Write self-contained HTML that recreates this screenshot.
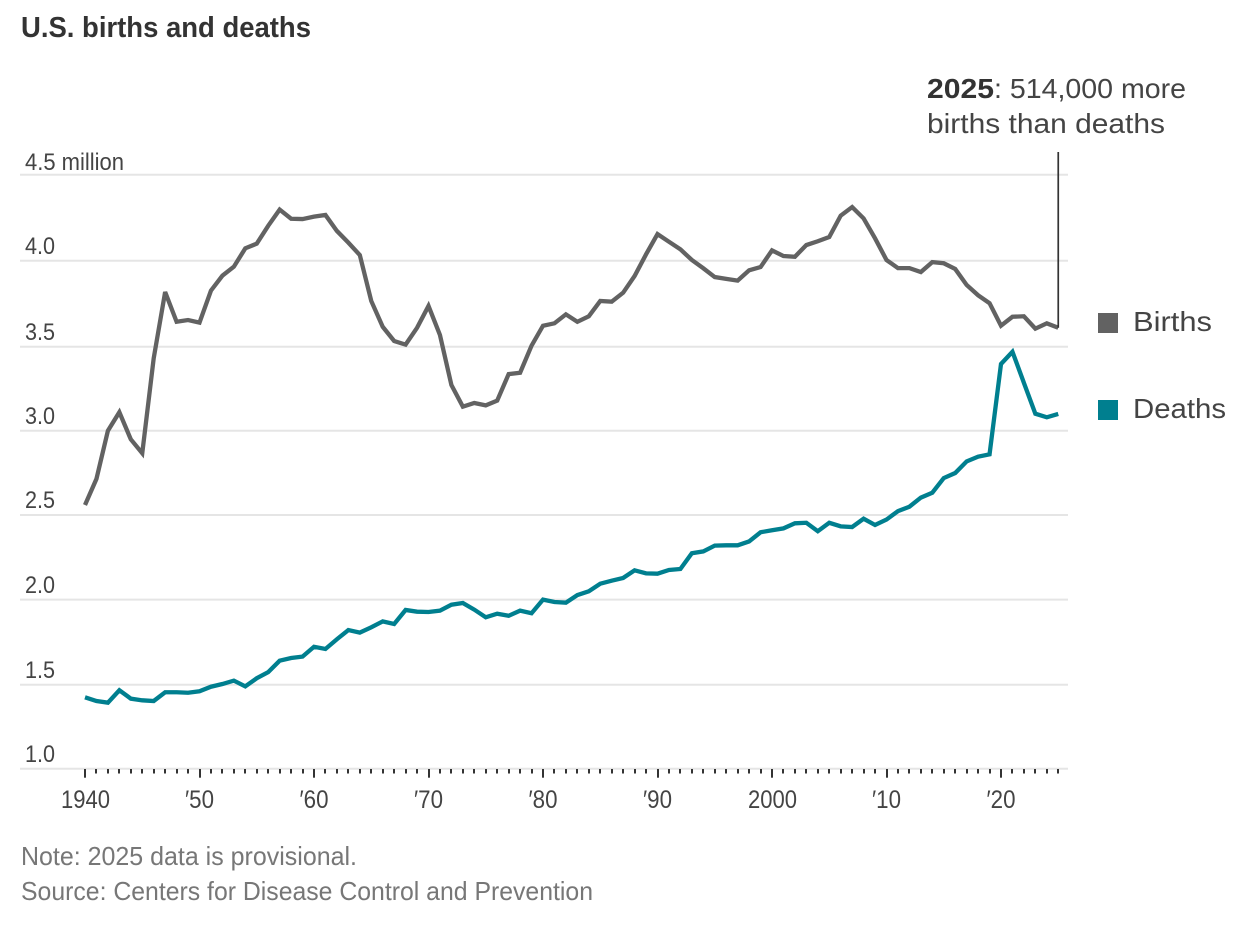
<!DOCTYPE html>
<html lang="en">
<head>
<meta charset="utf-8">
<title>U.S. births and deaths</title>
<style>
  html, body { margin: 0; padding: 0; background: #fff; }
  body { width: 1250px; height: 932px; overflow: hidden; }
  svg { display: block; font-family: "Liberation Sans", sans-serif; }
</style>
</head>
<body>
<svg id="chart" width="1250" height="932" viewBox="0 0 1250 932" xmlns="http://www.w3.org/2000/svg">
  <text x="21" y="37" font-size="29" font-weight="700" fill="#333" textLength="290" lengthAdjust="spacingAndGlyphs">U.S. births and deaths</text>
  <g id="grid"></g>
  <g id="y-labels"></g>
  <g id="x-axis"></g>
  <g id="series"></g>
  <g id="annotation">
    <text x="927" y="98" font-size="28" font-weight="700" fill="#333" textLength="67" lengthAdjust="spacingAndGlyphs">2025</text>
    <text x="994" y="98" font-size="28" fill="#444" textLength="192" lengthAdjust="spacingAndGlyphs">: 514,000 more</text>
    <text x="927" y="133" font-size="28" fill="#444" textLength="238" lengthAdjust="spacingAndGlyphs">births than deaths</text>
  </g>
  <g id="legend">
    <rect x="1098" y="313" width="20" height="20" fill="#626262"/>
    <text x="1133" y="331" font-size="28" fill="#444" textLength="79" lengthAdjust="spacingAndGlyphs">Births</text>
    <rect x="1098" y="400" width="20" height="20" fill="#007f8f"/>
    <text x="1133" y="418" font-size="28" fill="#444" textLength="93" lengthAdjust="spacingAndGlyphs">Deaths</text>
  </g>
  <text x="21" y="865" font-size="26" fill="#777" textLength="336" lengthAdjust="spacingAndGlyphs">Note: 2025 data is provisional.</text>
  <text x="21" y="900" font-size="26" fill="#777" textLength="572" lengthAdjust="spacingAndGlyphs">Source: Centers for Disease Control and Prevention</text>
</svg>
<script>
const years = [1940,1941,1942,1943,1944,1945,1946,1947,1948,1949,1950,1951,1952,1953,1954,1955,1956,1957,1958,1959,1960,1961,1962,1963,1964,1965,1966,1967,1968,1969,1970,1971,1972,1973,1974,1975,1976,1977,1978,1979,1980,1981,1982,1983,1984,1985,1986,1987,1988,1989,1990,1991,1992,1993,1994,1995,1996,1997,1998,1999,2000,2001,2002,2003,2004,2005,2006,2007,2008,2009,2010,2011,2012,2013,2014,2015,2016,2017,2018,2019,2020,2021,2022,2023,2024,2025];
const births = [2.559,2.714,3.000,3.110,2.949,2.866,3.431,3.818,3.645,3.655,3.640,3.826,3.913,3.965,4.072,4.099,4.203,4.297,4.244,4.242,4.256,4.266,4.173,4.105,4.033,3.766,3.616,3.533,3.512,3.610,3.737,3.568,3.272,3.143,3.165,3.151,3.179,3.337,3.345,3.506,3.622,3.636,3.688,3.645,3.677,3.766,3.762,3.814,3.911,4.037,4.155,4.110,4.066,4.004,3.956,3.905,3.894,3.884,3.944,3.963,4.060,4.027,4.023,4.091,4.113,4.138,4.262,4.312,4.246,4.130,4.004,3.957,3.957,3.934,3.992,3.985,3.952,3.859,3.799,3.753,3.622,3.674,3.677,3.605,3.636,3.610];
const deaths = [1.425,1.403,1.393,1.467,1.417,1.407,1.403,1.455,1.455,1.452,1.461,1.488,1.504,1.524,1.490,1.538,1.574,1.641,1.657,1.665,1.723,1.710,1.767,1.821,1.806,1.837,1.872,1.857,1.939,1.929,1.927,1.935,1.970,1.980,1.941,1.896,1.917,1.905,1.935,1.920,2.000,1.986,1.982,2.027,2.049,2.094,2.112,2.128,2.173,2.155,2.153,2.175,2.181,2.274,2.285,2.319,2.321,2.321,2.344,2.398,2.410,2.421,2.451,2.454,2.404,2.454,2.433,2.429,2.478,2.441,2.473,2.523,2.549,2.603,2.632,2.719,2.749,2.818,2.846,2.860,3.397,3.470,3.285,3.101,3.080,3.100];
const yTicks = [4.5,4.0,3.5,3.0,2.5,2.0,1.5,1.0];
const yTickLabels = ["4.5 million","4.0","3.5","3.0","2.5","2.0","1.5","1.0"];
const xTickYears = [1940,1950,1960,1970,1980,1990,2000,2010,2020];
const xTickLabels = ["1940","′50","′60","′70","′80","′90","2000","′10","′20"];

const NS = "http://www.w3.org/2000/svg";

function x(year) {
  return 85 + (year - 1940) * 11.45;
}

function y(value) {
  const domain = [1.0, 1.5, 2.0, 2.5, 3.0, 3.5, 4.0, 4.5];
  const range = [768.7, 684.7, 599.6, 515, 430.7, 346.7, 260.7, 174.7];
  let i = 0;
  while (i < domain.length - 2 && value > domain[i + 1]) i++;
  const t = (value - domain[i]) / (domain[i + 1] - domain[i]);
  return range[i] + t * (range[i + 1] - range[i]);
}

function make(tag, attrs, parent) {
  const el = document.createElementNS(NS, tag);
  for (const k in attrs) el.setAttribute(k, attrs[k]);
  parent.appendChild(el);
  return el;
}

const gridGroup = document.getElementById("grid");
const yLabelGroup = document.getElementById("y-labels");
const xGroup = document.getElementById("x-axis");
const seriesGroup = document.getElementById("series");
const annotationGroup = document.getElementById("annotation");

yTicks.forEach(function (v, i) {
  const line = make("line", {x1: 20, x2: 1068, y1: y(v), y2: y(v), stroke: "#e5e5e5", "stroke-width": 2}, gridGroup);
  
  
  const label = make("text", {
    x: 25,
    y: y(v) - (i === 0 ? 4.7 : 6.8),
    "font-size": 24,
    fill: "#444",
    textLength: i === 0 ? 99 : 30,
    lengthAdjust: "spacingAndGlyphs"
  }, yLabelGroup);
  label.textContent = yTickLabels[i];
  
  
});

years.forEach(function (yr) {
  const major = xTickYears.indexOf(yr) >= 0;
  const tickX = Math.round(x(yr));
  const tick = make("line", {x1: tickX, x2: tickX, y1: 769, y2: major ? 777.7 : 773.5, stroke: "#333", "stroke-width": 2}, xGroup);
  
  
});

xTickYears.forEach(function (yr, i) {
  const txt = xTickLabels[i];
  const width = txt.length === 4 ? 49 : 29;
  const label = make("text", {
    x: x(yr) + (txt.length === 4 ? 0.5 : 0),
    y: 808,
    "font-size": 25,
    fill: "#444",
    "text-anchor": "middle",
    textLength: width,
    lengthAdjust: "spacingAndGlyphs"
  }, xGroup);
  label.textContent = txt;
  
  
});

function linePoints(values) {
  return values.map(function (v, i) {
    return x(years[i]).toFixed(2) + "," + y(v).toFixed(2);
  }).join(" ");
}

const birthsLine = make("polyline", {points: linePoints(births), fill: "none", stroke: "#626262", "stroke-width": 4.3, "stroke-linejoin": "miter", "stroke-miterlimit": 3}, seriesGroup);



const deathsLine = make("polyline", {points: linePoints(deaths), fill: "none", stroke: "#007f8f", "stroke-width": 4.3, "stroke-linejoin": "miter", "stroke-miterlimit": 3}, seriesGroup);



const lastIndex = years.length - 1;
const leader = make("line", {x1: x(years[lastIndex]), x2: x(years[lastIndex]), y1: 152, y2: y(births[lastIndex]), stroke: "#333", "stroke-width": 1.7}, annotationGroup);


</script>
</body>
</html>
